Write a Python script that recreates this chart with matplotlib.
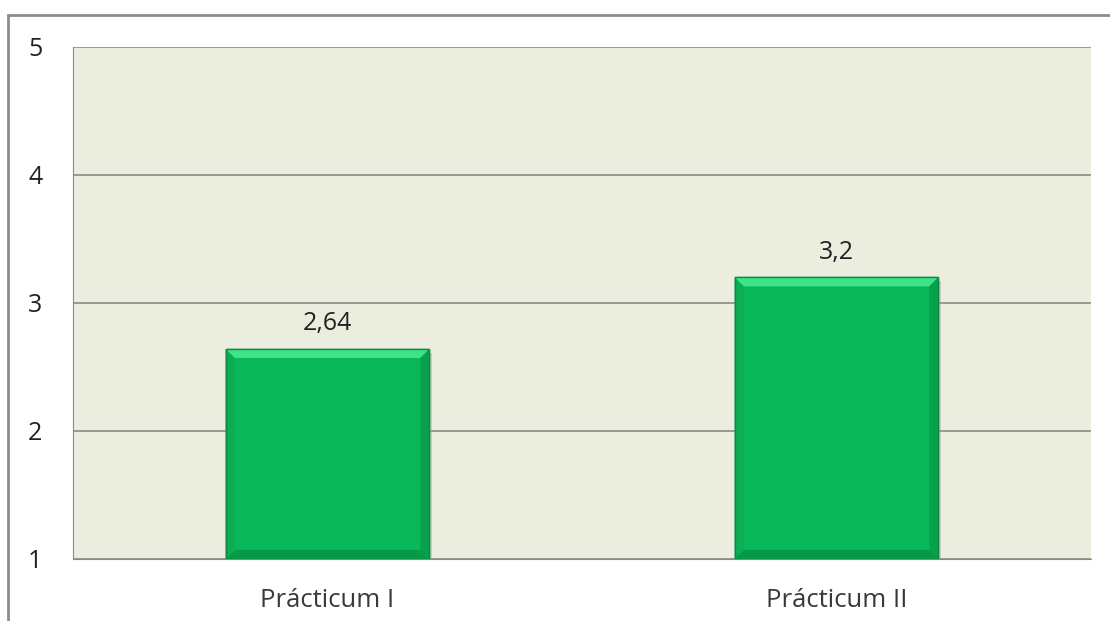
import matplotlib.pyplot as plt
from matplotlib.patches import Rectangle, Polygon

# Datos del gráfico
categorias = ['Prácticum I', 'Prácticum II']
valores = [2.64, 3.2]
etiquetas = ['2,64', '3,2']
yticks = [1, 2, 3, 4, 5]

plt.rcParams['font.family'] = ['Open Sans', 'DejaVu Sans']

fig = plt.figure(figsize=(11.1, 6.21), dpi=100)
W, H = 1110, 621
ax = fig.add_axes([73 / W, 1 - 559 / H, (1091 - 73) / W, (559 - 47) / H])

# Marco exterior del gráfico
fig.patches.append(Rectangle((8 / W, -0.1), 1.2, 1 - 15 / H + 0.1,
                             transform=fig.transFigure, fill=False,
                             edgecolor='#8c8c8c', linewidth=2))

ax.set_facecolor('#ebeedf')
x = range(len(categorias))
barras = ax.bar(x, [v - 1 for v in valores], bottom=1, width=0.4,
                color='#08b858', edgecolor='#0b8c44', linewidth=1.0, zorder=3)

# Efecto de bisel en las barras
dx = 9 / 509
dy = 9 / 128
for b in barras:
    x0, x1 = b.get_x(), b.get_x() + b.get_width()
    y0, y1 = b.get_y(), b.get_y() + b.get_height()
    # sombra
    ax.add_patch(Rectangle((x0 + 0.006, y0 - 0.03), x1 - x0, y1 - y0,
                           color='#a9ab9c', alpha=0.5, zorder=2, lw=0))
    ax.add_patch(Polygon([(x0, y1), (x1, y1), (x1 - dx, y1 - dy), (x0 + dx, y1 - dy)],
                         closed=True, color='#3ee48c', lw=0, zorder=4))
    ax.add_patch(Polygon([(x1, y1), (x1, y0), (x1 - dx, y0 + dy), (x1 - dx, y1 - dy)],
                         closed=True, color='#07a04c', lw=0, zorder=4))
    ax.add_patch(Polygon([(x0, y0), (x1, y0), (x1 - dx, y0 + dy), (x0 + dx, y0 + dy)],
                         closed=True, color='#069a48', lw=0, zorder=4))
    ax.add_patch(Polygon([(x0, y1), (x0, y0), (x0 + dx, y0 + dy), (x0 + dx, y1 - dy)],
                         closed=True, color='#0bae55', lw=0, zorder=4))
    ax.add_patch(Rectangle((x0, y0), x1 - x0, y1 - y0, fill=False,
                           edgecolor='#0a8a42', lw=1.0, zorder=5))

# Texto de los valores
for i, v in enumerate(valores):
    ax.text(i, v + 0.1, etiquetas[i], ha='center', va='bottom',
            fontsize=18, color='#222222')

ax.set_xlim(-0.5, 1.5)
ax.set_ylim(1, 5)
ax.set_yticks(yticks)
ax.set_yticklabels([str(t) for t in yticks])
ax.set_xticks(list(x))
ax.set_xticklabels(categorias)
ax.tick_params(axis='y', length=0, pad=22, labelsize=18, labelcolor='#222222')
ax.tick_params(axis='x', length=0, pad=21, labelsize=18.5, labelcolor='#3a3a3a')
ax.yaxis.grid(True, color='#8a8a8a', linewidth=1.2, zorder=0)
ax.set_axisbelow(True)

for s in ['top', 'right']:
    ax.spines[s].set_visible(False)
ax.spines['left'].set_color('#8a8a8a')
ax.spines['bottom'].set_color('#8a8a8a')

plt.savefig('out.png', dpi=100)
